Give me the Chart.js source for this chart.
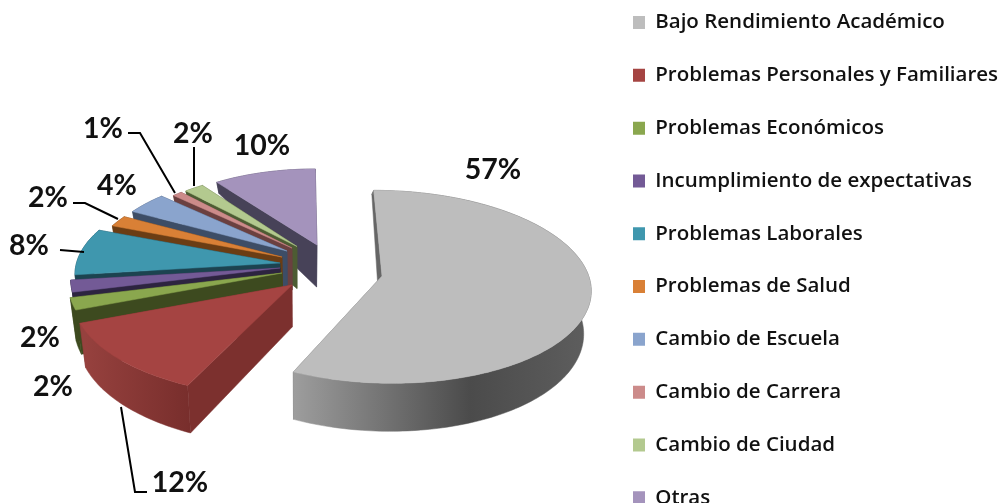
<!DOCTYPE html>
<html><head><meta charset="utf-8">
<script src="https://cdn.jsdelivr.net/npm/chart.js@4"></script>
<style>html,body{margin:0;padding:0;background:#fff;overflow:hidden}#w{position:absolute;left:0;top:0;width:1002px;height:503px}</style>
</head><body><div id="w"><canvas id="c" width="1002" height="503"></canvas></div>
<script>
const categories = ["Bajo Rendimiento Académico","Problemas Personales y Familiares","Problemas Económicos","Incumplimiento de expectativas","Problemas Laborales","Problemas de Salud","Cambio de Escuela","Cambio de Carrera","Cambio de Ciudad","Otras"];
const percentages = [57,12,2,2,8,2,4,1,2,10];
const topColors = ["#bdbdbd","#a54442","#8aa74e","#735a96","#3f97ae","#d98036","#8aa4cd","#cc8b8a","#b3c98f","#a493bc"];
const wallColors = ["#666","#7c302e","#3d4a1f","#2d2440","#1c4350","#6b3d14","#3d4d66","#6b4040","#4d5c33","#474258"];

// Perspective view of the tilted pie
const view = {vx:300, A:212, D:66, c:-0.112};
// apex placement and radius factor for each exploded slice
const sliceLayout = [
 {ax:382,ay:276,k:.975},{ax:292,ay:285,k:1.03},{ax:282,ay:273,k:1.0},{ax:280,ay:268,k:.98},
 {ax:280,ay:263,k:.96},{ax:282,ay:257,k:.9},{ax:287,ay:251,k:.88},{ax:292,ay:248,k:.83},
 {ax:297,ay:246.5,k:.83},{ax:317,ay:245,k:.865}];
const wallStops = {0:[[292,"#9e9e9e"],[470,"#4b4b4b"],[590,"#5e5e5e"]],1:[[85,"#96413e"],[190,"#782e2c"]]};
const labelPos = [[493,169.5],[180,482.5],[40,337.5],[53,386.5],[29,245.5],[48,197.5],[117,185.5],[103,128.5],[193,133.5],[262,145.5]];
const leaders = [[[121,407],[135,492],[147,492]],[[128,133],[140,133],[175,193]],[[194,147],[194,186]],[[73,203],[85,203],[118,219]],[[60,250],[84,252]]];

function pt(L,t,r,z){
  const X=Math.sin(t)*r, Y=-Math.cos(t)*r, s=1/(1+view.c*Y);
  let x=view.vx+(L.ax-view.vx+view.A*L.k*X)*s, y=(L.ay+view.D*L.k*Y)*s;
  if(z){ x=view.vx+(x-view.vx)*.974; y+= Y<0 ? 42+38*Y : 42+6*Y; }
  return [x,y];
}
function poly(ctx,pts,fill){
  ctx.beginPath(); pts.forEach((p,i)=>i?ctx.lineTo(p[0],p[1]):ctx.moveTo(p[0],p[1])); ctx.closePath();
  ctx.fillStyle=fill; ctx.fill(); ctx.strokeStyle=fill; ctx.lineWidth=.5; ctx.stroke();
}
const pie3d = {
  id:'pie3d',
  afterLayout(chart){
    const l=chart.legend, pad=chart.options.plugins.legend.labels.padding;
    l.left=633-pad; l.right=1002; l.top=-20; l.bottom=700;
  },
  beforeDatasetDraw(chart,args){
    const ctx=chart.ctx, arcs=chart.getDatasetMeta(args.index).data;
    const order=arcs.map((_,i)=>i).reverse().filter(i=>i!==0).concat([0]);
    ctx.save();
    for(const i of order){
      const a=arcs[i], L=sliceLayout[i];
      const t0=a.startAngle+Math.PI/2, t1=a.endAngle+Math.PI/2, n=Math.max(6,Math.ceil((t1-t0)/.02));
      const topArc=[], botArc=[];
      for(let j=0;j<=n;j++){const t=t0+(t1-t0)*j/n; topArc.push(pt(L,t,1,false)); botArc.push(pt(L,t,1,true));}
      const ap=pt(L,0,0,false), apz=pt(L,0,0,true);
      poly(ctx,[topArc[n],ap,apz,botArc[n]],wallColors[i]);
      poly(ctx,[topArc[0],ap,apz,botArc[0]],wallColors[i]);
      let wf=wallColors[i];
      if(wallStops[i]){
        const st=wallStops[i], g=ctx.createLinearGradient(st[0][0],0,st[st.length-1][0],0), w=st[st.length-1][0]-st[0][0];
        st.forEach(s=>g.addColorStop((s[0]-st[0][0])/w,s[1])); wf=g;
      }
      poly(ctx,topArc.concat(botArc.slice().reverse()),wf);
      poly(ctx,[ap].concat(topArc),topColors[i]);
    }
    ctx.restore();
    return false;
  },
  afterDatasetsDraw(chart){
    const ctx=chart.ctx;
    ctx.save();
    ctx.strokeStyle="#000"; ctx.lineWidth=2; ctx.lineJoin="miter";
    leaders.forEach(p=>{ctx.beginPath();p.forEach((q,i)=>i?ctx.lineTo(q[0],q[1]):ctx.moveTo(q[0],q[1]));ctx.stroke();});
    ctx.fillStyle="#111"; ctx.font="700 28.5px Lato"; ctx.textAlign="center"; ctx.textBaseline="middle";
    percentages.forEach((v,i)=>ctx.fillText(v+"%",labelPos[i][0],labelPos[i][1]));
    ctx.restore();
  }
};
new Chart(document.getElementById('c'),{
  type:'pie',
  data:{labels:categories,datasets:[{data:percentages,backgroundColor:topColors,borderWidth:0}]},
  options:{
    responsive:false,animation:false,
    layout:{padding:0},
    plugins:{
      tooltip:{enabled:false},
      legend:{position:'right',align:'start',
        labels:{boxWidth:12,boxHeight:13,padding:32.3,color:"#111",font:{family:"'Open Sans'",size:20.5,weight:"600"}}}
    }
  },
  plugins:[pie3d]
});
</script></body></html>
